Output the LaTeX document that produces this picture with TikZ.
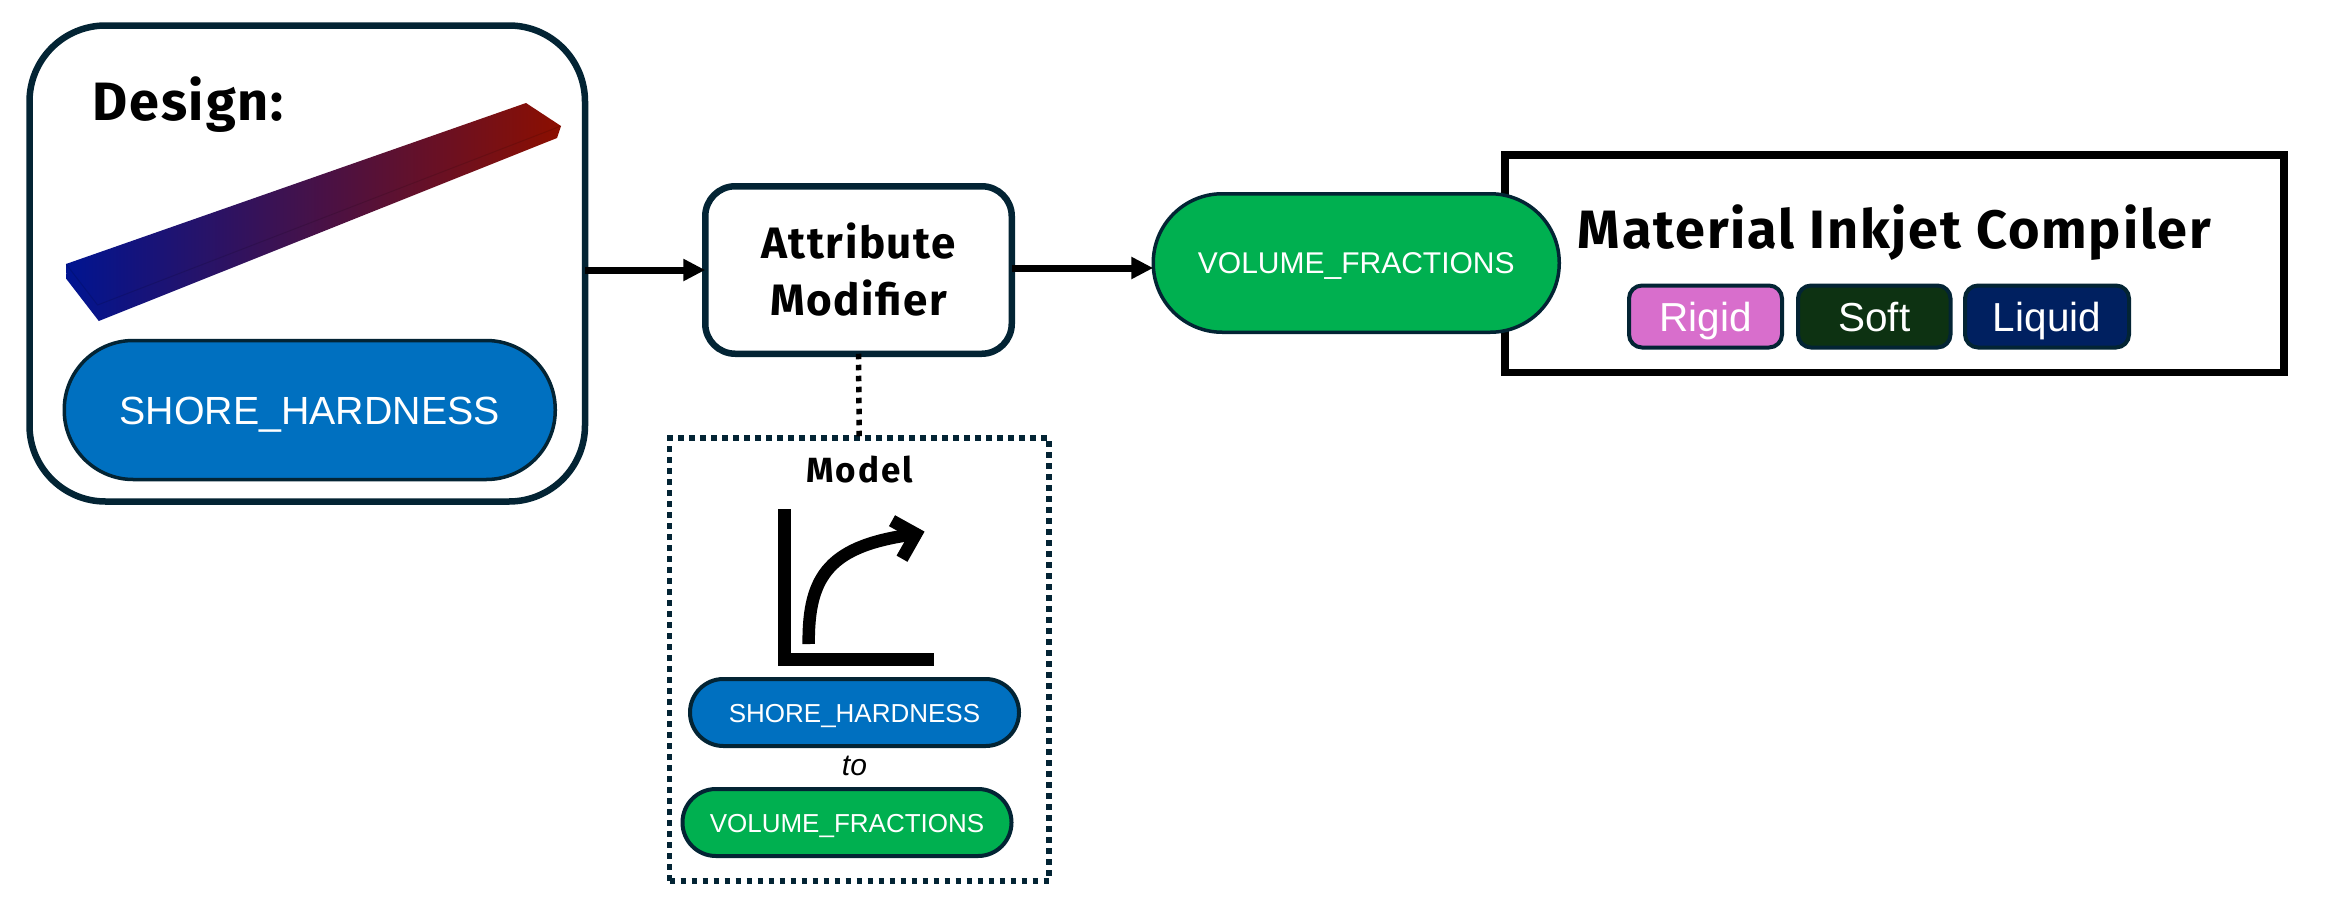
\documentclass[tikz,border=0pt]{standalone}
\usepackage{fontspec}
\setmainfont[LetterSpace=3.5]{Fira Sans}
\newfontfamily\lightf{Liberation Sans}
\usetikzlibrary{arrows.meta,calc}
\definecolor{darkedge}{RGB}{3,36,52}
\definecolor{pillblue}{RGB}{0,112,192}
\definecolor{pillgreen}{RGB}{0,176,80}
\definecolor{barblue}{RGB}{0,20,145}
\definecolor{barred}{RGB}{140,15,0}
\definecolor{rigidc}{RGB}{216,110,204}
\definecolor{softc}{RGB}{13,50,18}
\definecolor{liquidc}{RGB}{0,32,96}
\tikzset{
  boxbase/.style={draw=darkedge,fill=white,inner sep=0pt,outer sep=0pt},
  pill/.style={draw=darkedge,text=white,inner sep=0pt,outer sep=0pt,font=\lightf},
  matbox/.style={pill,line width=4pt,rounded corners=13pt,minimum height=62pt,text height=29pt,text depth=0pt,font=\lightf\fontsize{40.5}{46}\selectfont},
  bigpill/.style={pill,line width=3.5pt},
  smallpill/.style={pill,line width=4pt,minimum width=329pt,minimum height=67pt,rounded corners=33.4pt,text height=19pt,text depth=0pt,font=\lightf\fontsize{26}{30}\selectfont},
  flow/.style={line width=7pt,-{Triangle[length=22pt,width=21pt]}},
  dotline/.style={line width=5.5pt,dash pattern=on 5.5pt off 5.5pt},
  title/.style={inner sep=0pt,outer sep=0pt,anchor=base,font=\bfseries},
  glyph/.style={line width=12.5pt,line join=miter,line cap=butt}
}
\begin{document}
\begin{tikzpicture}[x=1pt,y=-1pt]
\useasboundingbox (0,0) rectangle (2340,913);
% design box
\node[boxbase,line width=6.5pt,minimum width=555.5pt,minimum height=476pt,rounded corners=76pt] (design) at (307.25,263.5) {};
\node[title,font=\bfseries\fontsize{54}{60}\selectfont] (designlabel) at (188,120.7) {Design:};
\shade[left color=barblue,right color=barred] (66,264) -- (66.4,279) -- (98.8,321) -- (557,138) -- (561,126) -- (526,103) -- cycle;
\draw[black,opacity=.12,line width=1pt] (66,264) -- (97.6,305) -- (561,126);
\node[bigpill,fill=pillblue,minimum width=491pt,minimum height=139pt,rounded corners=69pt,text height=29pt,text depth=0pt,font=\lightf\fontsize{39.3}{46}\selectfont] (shore) at (309.75,410) {SHORE\_HARDNESS};
% attribute modifier
\node[boxbase,line width=6.5pt,minimum width=306.5pt,minimum height=167.5pt,rounded corners=30pt,align=center,font=\bfseries\fontsize{44}{57}\selectfont] (attr) at (858.5,270) {Attribute\\Modifier};
% compiler
\node[draw=black,fill=white,line width=7.5pt,inner sep=0pt,outer sep=0pt,minimum width=779pt,minimum height=217.5pt] (compiler) at (1894.5,263.75) {};
\node[title,font=\bfseries\fontsize{54}{60}\selectfont] (compilerlabel) at (1894.5,248) {Material Inkjet Compiler};
\node[bigpill,fill=pillgreen,minimum width=406pt,minimum height=138.5pt,rounded corners=69pt,text height=21pt,text depth=0pt,font=\lightf\fontsize{30}{34}\selectfont] (vf) at (1356.25,263) {VOLUME\_FRACTIONS};
\node[matbox,fill=rigidc,minimum width=153pt] (rigid) at (1705.5,316.5) {Rigid};
\node[matbox,fill=softc,minimum width=152.5pt] (soft) at (1874.25,316.5) {Soft};
\node[matbox,fill=liquidc,minimum width=164pt] (liquid) at (2047,316.5) {Liquid};
% model
\node[draw=darkedge,fill=white,dotline,inner sep=0pt,outer sep=0pt,minimum width=379.5pt,minimum height=443pt] (model) at (859.25,659.5) {};
\draw[black,dotline] (attr.south) -- (model.north);
\node[title,font=\bfseries\fontsize{35}{40}\selectfont\addfontfeature{LetterSpace=5.5}] (modellabel) at (859.5,482) {Model};
\coordinate (axtop) at (784,509);
\coordinate (axcorner) at (784,659.5);
\coordinate (axright) at (934,659.5);
\draw[glyph,line width=13pt] (axtop) -- (axcorner) -- (axright);
\coordinate (cstart) at (808.7,644);
\coordinate (cend) at (916,534);
\coordinate (headtop) at (892,520.7);
\coordinate (headbot) at (902,558.7);
\draw[glyph] (cstart) .. controls (808,575) and (830,545) .. (cend);
\draw[glyph] (headtop) -- (cend) -- (headbot);
\node[smallpill,fill=pillblue] (shore2) at (854.5,712.5) {SHORE\_HARDNESS};
\node[title,font=\lightf\itshape\fontsize{30}{34}\selectfont] (tolabel) at (854.5,775) {to};
\node[smallpill,fill=pillgreen] (vf2) at (847,822.5) {VOLUME\_FRACTIONS};
% connectors
\draw[flow] (attr.west -| design.east) -- (attr.west);
\draw[flow] ($(attr.east)+(0,-2)$) -- ($(vf.west)+(0,5)$);
\end{tikzpicture}
\end{document}
